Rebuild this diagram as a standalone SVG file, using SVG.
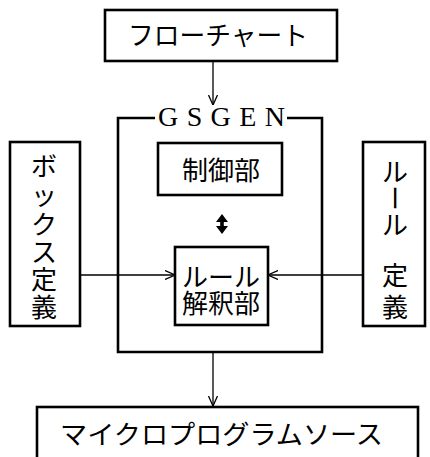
<svg xmlns="http://www.w3.org/2000/svg" width="430" height="457" viewBox="0 0 430 457">
<style>
.box{fill:#fff;stroke:#000;stroke-width:2.6}
.br{fill:none;stroke:#000;stroke-width:2.6}
.jp{font-family:"Noto Sans CJK JP","Noto Sans",sans-serif;fill:#000;font-size:26px}
.en{font-family:"Liberation Serif",serif;fill:#000;font-size:28px}
.c{text-anchor:middle}
.ln{stroke:#000;stroke-width:1.3;fill:none}
</style>
<defs>
<marker id="open" viewBox="0 0 10 10" refX="10" refY="5" markerWidth="10" markerHeight="10" markerUnits="userSpaceOnUse" orient="auto">
<path d="M0,0.5 L10,5 L0,9.5" fill="none" stroke="#000" stroke-width="1.3"/>
</marker>
</defs>
<rect width="430" height="457" fill="#fff"/>
<g id="connectors">
<line class="ln" x1="213" y1="61" x2="213" y2="105" marker-end="url(#open)"/>
<line class="ln" x1="80" y1="275" x2="175" y2="275" marker-end="url(#open)"/>
<line class="ln" x1="363" y1="275" x2="268" y2="275" marker-end="url(#open)"/>
<line class="ln" x1="213" y1="352" x2="213" y2="406" marker-end="url(#open)"/>
<path d="M222,214 L228,222 L223.8,222 L223.8,226 L228,226 L222,234 L216,226 L220.2,226 L220.2,222 L216,222 Z" fill="#000"/>
</g>
<g id="flowchart">
<rect class="box" x="105" y="10" width="232" height="51"/>
<text class="jp" x="128" y="45" font-size="25" textLength="180" lengthAdjust="spacingAndGlyphs">フローチャート</text>
</g>
<g id="gsgen">
<path class="br" d="M155,118 L118,118 L118,352 L322,352 L322,118 L287,118"/>
<text class="en" x="158" y="126" textLength="127" lengthAdjust="spacing">GSGEN</text>
</g>
<g id="control">
<rect class="box" x="158" y="143" width="124" height="52"/>
<text class="jp c" x="221" y="180">制御部</text>
</g>
<g id="rule-interp">
<rect class="box" x="175" y="247" width="93" height="78"/>
<text class="jp c" font-size="25"><tspan x="221" y="287">ルール</tspan><tspan x="221" y="313">解釈部</tspan></text>
</g>
<g id="box-def">
<rect class="box" x="10" y="142" width="70" height="184"/>
<text class="jp c" font-size="25"><tspan x="44" y="176">ボ</tspan><tspan x="44" y="205">ッ</tspan><tspan x="44" y="234">ク</tspan><tspan x="44" y="262">ス</tspan><tspan x="44" y="289">定</tspan><tspan x="44" y="317">義</tspan></text>
</g>
<g id="rule-def">
<rect class="box" x="363" y="142" width="62" height="184"/>
<text class="jp c" font-size="25"><tspan x="395" y="182">ル</tspan><tspan x="395" y="235">ル</tspan><tspan x="395" y="285">定</tspan><tspan x="395" y="317">義</tspan></text>
<text class="jp c" x="395" y="208" font-size="25" transform="rotate(90 395 198)">ー</text>
</g>
<g id="source">
<rect class="box" x="37" y="407" width="381" height="60"/>
<text class="jp" x="60" y="444" font-size="27" textLength="323" lengthAdjust="spacingAndGlyphs">マイクロプログラムソース</text>
</g>
</svg>
